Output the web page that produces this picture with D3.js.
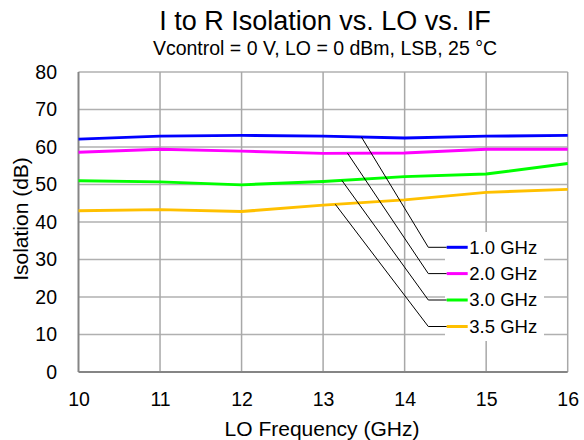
<!DOCTYPE html>
<html><head><meta charset="utf-8">
<script src="https://cdn.jsdelivr.net/npm/d3@7"></script>
<style>body{margin:0;background:#fff;} svg{display:block;font-family:"Liberation Sans",Arial,sans-serif;}</style>
</head><body>
<script>
const loFreq = [10, 11, 12, 13, 14, 15, 16];
const seriesNames = ["1.0 GHz", "2.0 GHz", "3.0 GHz", "3.5 GHz"];
const seriesColors = ["#0000ff", "#ff00ff", "#00ff00", "#ffc000"];
const if1p0 = [62.1, 62.9, 63.1, 62.9, 62.4, 62.9, 63.1];
const if2p0 = [58.6, 59.4, 58.9, 58.3, 58.4, 59.4, 59.4];
const if3p0 = [51.0, 50.7, 49.9, 50.8, 52.1, 52.8, 55.6];
const if3p5 = [43.0, 43.3, 42.8, 44.5, 45.9, 47.9, 48.7];
const xTicks = [10, 11, 12, 13, 14, 15, 16];
const yTicks = [0, 10, 20, 30, 40, 50, 60, 70, 80];
const leaderAt = [13.47, 13.3, 13.23, 13.15];

const series = [if1p0, if2p0, if3p0, if3p5];
const W = 584, H = 440;
const m = {l: 78.5, r: 584 - 567.7, t: 72, b: 440 - 372};
const svg = d3.select("body").append("svg").attr("width", W).attr("height", H);
const x = d3.scaleLinear().domain([10, 16]).range([m.l, W - m.r]);
const y = d3.scaleLinear().domain([0, 80]).range([H - m.b, m.t]);
const FONT = "Liberation Sans, Arial, sans-serif";

// gridlines
const g = svg.append("g");
g.selectAll(".hg").data(yTicks.filter(d => d > 0)).join("line")
  .attr("x1", m.l).attr("x2", W - m.r).attr("y1", d => y(d)).attr("y2", d => y(d))
  .attr("stroke", "#b0b0b0").attr("stroke-width", 1.5);
g.selectAll(".vg").data(xTicks.filter(d => d > 10)).join("line")
  .attr("x1", d => x(d)).attr("x2", d => x(d)).attr("y1", m.t).attr("y2", H - m.b)
  .attr("stroke", "#a8a8a8").attr("stroke-width", 1.5);
// axes lines
svg.append("line").attr("x1", m.l).attr("x2", m.l).attr("y1", m.t).attr("y2", H - m.b)
  .attr("stroke", "#858585").attr("stroke-width", 2);
svg.append("line").attr("x1", m.l).attr("x2", W - m.r).attr("y1", H - m.b).attr("y2", H - m.b)
  .attr("stroke", "#858585").attr("stroke-width", 2);

// axis labels via d3 axes
const xAxis = svg.append("g").attr("transform", `translate(0,${H - m.b})`)
  .call(d3.axisBottom(x).tickValues(xTicks).tickSize(0).tickPadding(20).tickFormat(d3.format("d")));
xAxis.select(".domain").remove();
xAxis.selectAll("text").attr("font-size", 19.5).attr("fill", "#000").attr("font-family", FONT);
const yAxis = svg.append("g").attr("transform", `translate(${m.l},0)`)
  .call(d3.axisLeft(y).tickValues(yTicks).tickSize(0).tickPadding(21.5).tickFormat(d3.format("d")));
yAxis.select(".domain").remove();
yAxis.selectAll("text").attr("font-size", 19.5).attr("fill", "#000").attr("font-family", FONT);

// legend background box
svg.append("rect").attr("x", 445).attr("y", 232).attr("width", 99).attr("height", 109).attr("fill", "#fff");

// series lines
const line = d3.line().x((d, i) => x(loFreq[i])).y(d => y(d));
svg.selectAll(".s").data(series).join("path")
  .attr("d", line).attr("fill", "none")
  .attr("stroke", (d, i) => seriesColors[i]).attr("stroke-width", 3).attr("stroke-linejoin", "round");

// legend with leader lines
const legY = [247.3, 273.6, 300, 326.5];
function interp(arr, xv) {
  const i = Math.floor(xv - 10);
  const t = xv - 10 - i;
  return arr[i] + (arr[i + 1] - arr[i]) * t;
}
series.forEach((s, i) => {
  const sx = x(leaderAt[i]), sy = y(interp(s, leaderAt[i]));
  svg.append("polyline")
    .attr("points", `${sx},${sy} 428.3,${legY[i]} 446.7,${legY[i]}`)
    .attr("fill", "none").attr("stroke", "#000").attr("stroke-width", 1);
  svg.append("line").attr("x1", 446.7).attr("x2", 467.7).attr("y1", legY[i]).attr("y2", legY[i])
    .attr("stroke", seriesColors[i]).attr("stroke-width", 3);
  svg.append("text").attr("x", 469.3).attr("y", legY[i]).attr("dy", "0.35em")
    .attr("font-size", 18.5).attr("fill", "#000").text(seriesNames[i]);
});

// titles
svg.append("text").attr("x", 325).attr("y", 30).attr("text-anchor", "middle")
  .attr("font-size", 27).text("I to R Isolation vs. LO vs. IF");
svg.append("text").attr("x", 325).attr("y", 55).attr("text-anchor", "middle")
  .attr("font-size", 19.5).text("Vcontrol = 0 V, LO = 0 dBm, LSB, 25 °C");
svg.append("text").attr("x", 322).attr("y", 436).attr("text-anchor", "middle")
  .attr("font-size", 21).text("LO Frequency (GHz)");
svg.append("text").attr("transform", `translate(28,219) rotate(-90)`)
  .attr("text-anchor", "middle").attr("font-size", 21).text("Isolation (dB)");
</script>
</body></html>
